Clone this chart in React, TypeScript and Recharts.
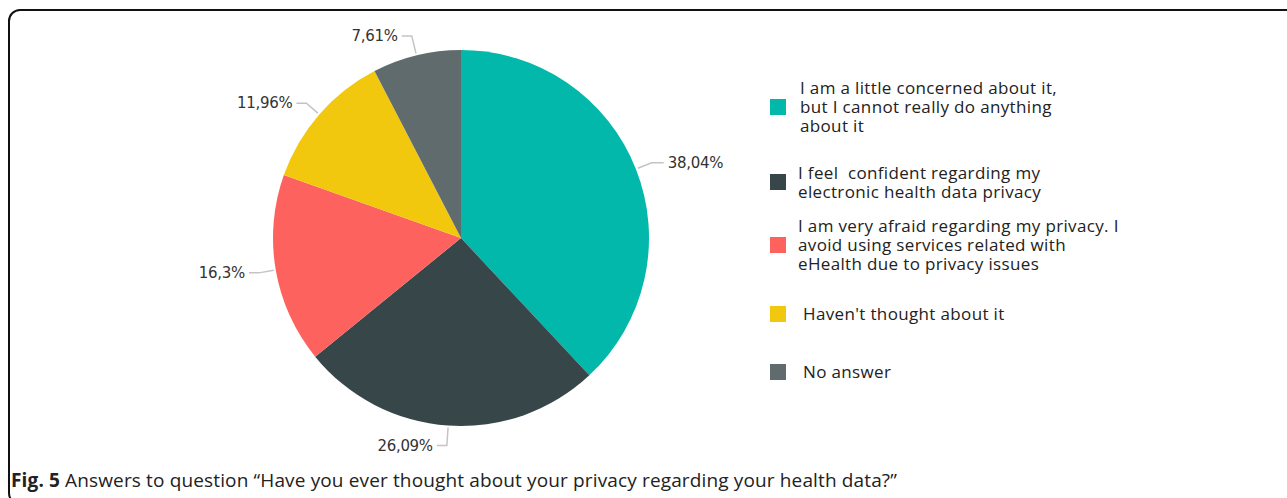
import React from "react";
import { PieChart, Pie, Cell } from "recharts";

const categories = [
  "I am a little concerned about it,\nbut I cannot really do anything\nabout it",
  "I feel  confident regarding my\nelectronic health data privacy",
  "I am very afraid regarding my privacy. I\navoid using services related with\neHealth due to privacy issues",
  "Haven't thought about it",
  "No answer",
];
const values = [38.04, 26.09, 16.3, 11.96, 7.61];
const valueLabels = ["38,04%", "26,09%", "16,3%", "11,96%", "7,61%"];
const colors = ["#01B8AA", "#374649", "#FD625E", "#F2C80F", "#5F6B6D"];

const legendGapsTop = [0, 28, 15, 31, 39];
const legendTextOffset = [0, -2, -2, 3, 3];

const data = categories.map((name, i) => ({ name, value: values[i], label: valueLabels[i] }));

const RADIAN = Math.PI / 180;

function linePoints(cx: number, cy: number, outerRadius: number, midAngle: number) {
  const cos = Math.cos(-midAngle * RADIAN);
  const sin = Math.sin(-midAngle * RADIAN);
  const x0 = cx + (outerRadius + 2) * cos;
  const y0 = cy + (outerRadius + 2) * sin;
  const ext = Math.abs(sin) > 0.9 ? 20 : 17;
  const x1 = cx + (outerRadius + ext) * cos;
  const y1 = cy + (outerRadius + ext) * sin;
  const right = cos >= 0;
  const x2 = x1 + (right ? 12 : -10);
  return { x0, y0, x1, y1, x2, y2: y1, right };
}

const renderLabelLine = (props: any) => {
  const { cx, cy, outerRadius, midAngle } = props;
  const p = linePoints(cx, cy, outerRadius, midAngle);
  return (
    <polyline
      points={`${p.x0},${p.y0} ${p.x1},${p.y1} ${p.x2},${p.y2}`}
      fill="none"
      stroke="#c4c4c4"
      strokeWidth={1.5}
    />
  );
};

const renderLabel = (props: any) => {
  const { cx, cy, outerRadius, midAngle, index } = props;
  const p = linePoints(cx, cy, outerRadius, midAngle);
  return (
    <text
      x={p.x2 + (p.right ? 4 : -4)}
      y={p.y2}
      textAnchor={p.right ? "start" : "end"}
      dominantBaseline="central"
      fill="#333"
      fontSize={15}
      fontFamily="'DejaVu Sans', sans-serif"
      style={{ letterSpacing: "-0.3px" }}
    >
      {valueLabels[index]}
    </text>
  );
};

const LegendBlock = () => (
  <div style={{ display: "flex", flexDirection: "column" }}>
    {data.map((d, i) => (
      <div
        key={i}
        style={{ display: "flex", alignItems: "center", marginTop: legendGapsTop[i] }}
      >
        <div style={{ width: 16, height: 16, background: colors[i], flex: "none" }} />
        <div
          style={{
            marginLeft: 14 + legendTextOffset[i],
            whiteSpace: "pre-wrap",
            fontFamily: "'Open Sans', sans-serif",
            fontSize: 17,
            letterSpacing: "0.35px",
            lineHeight: "19px",
            color: "#222",
          }}
        >
          {d.name}
        </div>
      </div>
    ))}
  </div>
);

export default function App() {
  return (
    <div
      style={{
        position: "fixed",
        left: 0,
        top: 0,
        width: 1287,
        height: 498,
        background: "#fff",
        overflow: "hidden",
      }}
    >
      <div
        style={{
          position: "absolute",
          left: 8,
          top: 9,
          width: 1300,
          height: 492,
          border: "2px solid #111",
          borderRadius: 12,
        }}
      />
      <div style={{ position: "absolute", left: 0, top: 0 }}>
        <PieChart width={1287} height={470} margin={{ top: 0, right: 0, bottom: 0, left: 0 }}>
          <Pie
            data={data}
            dataKey="value"
            nameKey="name"
            cx={461}
            cy={238}
            outerRadius={188}
            startAngle={90}
            endAngle={-270}
            stroke="none"
            isAnimationActive={false}
            label={renderLabel}
            labelLine={renderLabelLine}
          >
            {data.map((d, i) => (
              <Cell key={i} fill={colors[i]} />
            ))}
          </Pie>
        </PieChart>
      </div>
      <div style={{ position: "absolute", left: 770, top: 78 }}>
        <LegendBlock />
      </div>
      <div
        style={{
          position: "absolute",
          left: 11,
          top: 467,
          fontFamily: "'Open Sans', sans-serif",
          fontSize: 19,
          letterSpacing: "0.14px",
          color: "#222",
          whiteSpace: "nowrap",
        }}
      >
        <b>Fig. 5</b> Answers to question “Have you ever thought about your privacy regarding your health data?”
      </div>
    </div>
  );
}
